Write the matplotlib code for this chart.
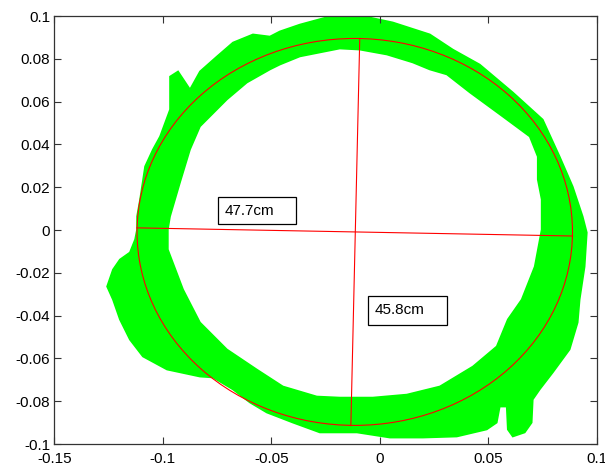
import numpy as np
import matplotlib
matplotlib.use("Agg")
import matplotlib.pyplot as plt
from matplotlib.path import Path
from matplotlib.patches import PathPatch, Ellipse, Rectangle

plt.rcParams['font.family'] = ['Liberation Sans', 'DejaVu Sans']

# outer edge of the green point cloud (clockwise, from the left)
outer_x = [-0.1119, -0.1119, -0.1105, -0.1082, -0.1046, -0.1013, -0.0967, -0.0967,
           -0.0930, -0.0875, -0.0829, -0.0751, -0.0677, -0.0585, -0.0507, -0.0461,
           -0.0369, -0.0231, -0.0106, -0.0047, 0.0059, 0.0230, 0.0336, 0.0460,
           0.0612, 0.0750, 0.0828, 0.0888, 0.0934, 0.0953, 0.0943, 0.0920,
           0.0911, 0.0874, 0.0796, 0.0736, 0.0704, 0.0699, 0.0667, 0.0612,
           0.0589, 0.0584, 0.0552, 0.0538, 0.0492, 0.0354, 0.0198, 0.0046,
           -0.0106, -0.0277, -0.0401, -0.0521, -0.0599, -0.0677, -0.0769, -0.0829,
           -0.0981, -0.1092, -0.1152, -0.1198, -0.1230, -0.1257, -0.1230, -0.1198,
           -0.1152, -0.1128]
outer_y = [0.0002, 0.0063, 0.0143, 0.0297, 0.0376, 0.0437, 0.0563, 0.0717,
           0.0741, 0.0657, 0.0741, 0.0811, 0.0876, 0.0914, 0.0904, 0.0928,
           0.0960, 0.0998, 0.1007, 0.0993, 0.0970, 0.0914, 0.0843, 0.0773,
           0.0643, 0.0516, 0.0343, 0.0203, 0.0063, -0.0012, -0.0171, -0.0325,
           -0.0432, -0.0558, -0.0666, -0.0745, -0.0792, -0.0900, -0.0946, -0.0965,
           -0.0932, -0.0825, -0.0825, -0.0900, -0.0932, -0.0965, -0.0970, -0.0970,
           -0.0946, -0.0946, -0.0900, -0.0853, -0.0806, -0.0745, -0.0689, -0.0685,
           -0.0652, -0.0591, -0.0512, -0.0418, -0.0325, -0.0264, -0.0185, -0.0138,
           -0.0105, -0.0044]

# inner edge of the point cloud (clockwise, from the left)
inner_x = [-0.0977, -0.0967, -0.0921, -0.0875, -0.0829, -0.0705, -0.0613, -0.0507,
           -0.0461, -0.0369, -0.0185, -0.0093, 0.0032, 0.0151, 0.0230, 0.0308,
           0.0414, 0.0566, 0.0690, 0.0727, 0.0727, 0.0745, 0.0745, 0.0713,
           0.0653, 0.0589, 0.0538, 0.0428, 0.0276, 0.0124, -0.0033, -0.0185,
           -0.0291, -0.0447, -0.0567, -0.0705, -0.0829, -0.0907, -0.0977]
inner_y = [0.0002, 0.0063, 0.0222, 0.0376, 0.0484, 0.0610, 0.0689, 0.0750,
           0.0773, 0.0811, 0.0848, 0.0843, 0.0820, 0.0783, 0.0750, 0.0727,
           0.0643, 0.0530, 0.0437, 0.0343, 0.0236, 0.0143, 0.0002, -0.0171,
           -0.0325, -0.0418, -0.0544, -0.0638, -0.0731, -0.0769, -0.0783, -0.0783,
           -0.0778, -0.0731, -0.0652, -0.0558, -0.0432, -0.0278, -0.0091]

# fitted ellipse: centre, full width, full height
ell_center = (-0.0116, -0.0009)
ell_width = 0.2006
ell_height = 0.1808

# diameter lines
horiz_x = [-0.1119, 0.0887]
horiz_y = [0.0010, -0.0028]
vert_x = [-0.0093, -0.0134]
vert_y = [0.0895, -0.0914]

labels = ['47.7cm', '45.8cm']
label_x = [-0.0714, -0.0024]
label_y = [0.0091, -0.0376]
box_x0 = [-0.0746, -0.0054]
box_x1 = [-0.0387, 0.0309]
box_y0 = [0.0030, -0.0446]
box_y1 = [0.0152, -0.0309]

xticks = [-0.15, -0.1, -0.05, 0, 0.05, 0.1]
xticklabels = ['-0.15', '-0.1', '-0.05', '0', '0.05', '0.1']
yticks = [-0.1, -0.08, -0.06, -0.04, -0.02, 0, 0.02, 0.04, 0.06, 0.08, 0.1]
yticklabels = ['-0.1', '-0.08', '-0.06', '-0.04', '-0.02', '0',
               '0.02', '0.04', '0.06', '0.08', '0.1']

fig = plt.figure(figsize=(6.05, 4.72), dpi=100)
ax = fig.add_axes([0.0898, 0.0593, 0.8970, 0.9068])

# ring = outer polygon with the inner one cut out (inner reversed)
outer = np.column_stack([outer_x, outer_y])
inner = np.column_stack([inner_x, inner_y])[::-1]
verts = np.vstack([outer, outer[:1], inner, inner[:1]])
codes = ([Path.MOVETO] + [Path.LINETO] * (len(outer) - 1) + [Path.CLOSEPOLY] +
         [Path.MOVETO] + [Path.LINETO] * (len(inner) - 1) + [Path.CLOSEPOLY])
ring = PathPatch(Path(verts, codes), facecolor='#00ff00', edgecolor='#00ff00',
                 lw=1.2, zorder=1)
ax.add_patch(ring)

ax.add_patch(Ellipse(ell_center, ell_width, ell_height, fill=False,
                     edgecolor='red', lw=0.8, zorder=2))
ax.plot(horiz_x, horiz_y, color='red', lw=0.8, zorder=2)
ax.plot(vert_x, vert_y, color='red', lw=0.8, zorder=2)

for i in range(len(labels)):
    ax.add_patch(Rectangle((box_x0[i], box_y0[i]), box_x1[i] - box_x0[i],
                           box_y1[i] - box_y0[i], facecolor='white',
                           edgecolor='black', lw=0.9, zorder=3))
    ax.text(label_x[i], label_y[i], labels[i], fontsize=11, ha='left',
            va='center', zorder=4)

ax.set_xlim(-0.15, 0.1)
ax.set_ylim(-0.1, 0.1)
ax.set_xticks(xticks)
ax.set_xticklabels(xticklabels)
ax.set_yticks(yticks)
ax.set_yticklabels(yticklabels)
ax.tick_params(direction='in', top=True, right=True, length=5, width=0.8,
               labelsize=11, color='#333333')
ax.tick_params(axis='x', pad=6)
ax.tick_params(axis='y', pad=3)
for s in ax.spines.values():
    s.set_linewidth(0.9)
    s.set_color('#333333')

fig.savefig('out.png', dpi=100)
